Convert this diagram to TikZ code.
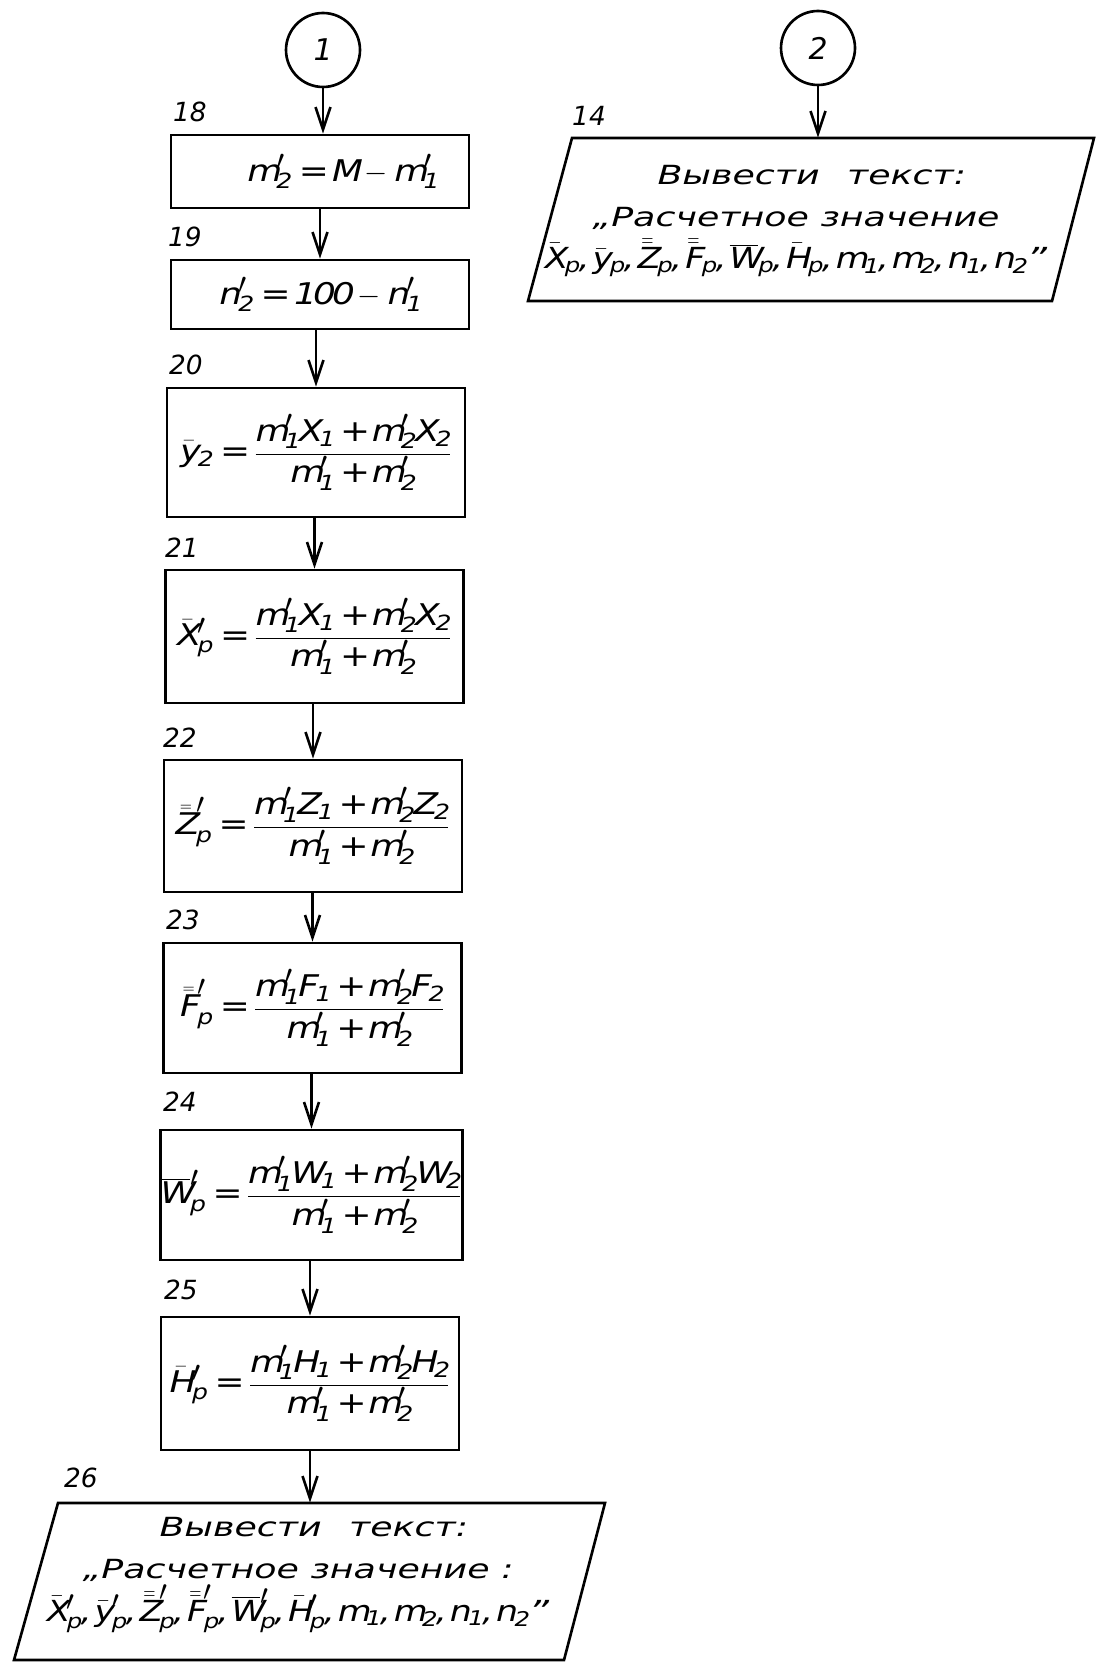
\documentclass[tikz,border=0pt]{standalone}
\usepackage{fix-cm}
\usepackage{graphicx}
\usepackage{fontspec}
\setmainfont{DejaVu Sans}
\newfontfamily\txtf{DejaVu Sans}[FakeStretch=1.38]
\newfontfamily\mathtxt{DejaVu Sans}[NFSSFamily=dvsm,FakeStretch=1.2]
\DeclareSymbolFont{letters}{TU}{dvsm}{m}{it}
\DeclareSymbolFont{cmlegacy}{OT1}{cmr}{m}{n}
\DeclareMathAccent{\bar}{\mathalpha}{cmlegacy}{"16}
\usetikzlibrary{arrows.meta}
\newcommand\fmath{\fontsize{17}{20}\selectfont}
\newcommand\ftext{\txtf\itshape\fontsize{15}{24}\selectfont}
\newcommand\flab{\itshape\fontsize{15}{18}\selectfont}
\newcommand\lineMath{\fontsize{16.5}{24}\selectfont}
\let\oldprime\prime
\renewcommand\prime{\mbox{\scalebox{1.4}{$\scriptstyle\oldprime$}}}
\begin{document}
\mathcode`\0="0130 \mathcode`\1="0131 \mathcode`\2="0132 \mathcode`\3="0133
\mathcode`\4="0134 \mathcode`\5="0135 \mathcode`\6="0136 \mathcode`\7="0137
\mathcode`\8="0138 \mathcode`\9="0139
\mathcode`\,="612C
\mathcode`\+="212B
\mathcode`\=="313D
\begin{tikzpicture}[x=0.02cm,y=-0.02cm,
  lw/.style={line width=1.5pt},
  box/.style={draw, lw, minimum width=5.96cm, inner sep=0pt, font=\fmath},
  conn/.style={circle, draw, lw, minimum size=1.48cm, inner sep=0pt, font=\fontsize{17}{20}\selectfont\itshape},
  lbl/.style={inner sep=0pt, font=\flab},
  arr/.style={lw, -{Straight Barb[length=4.5mm,width=3mm]}},
  ptext/.style={inner sep=0pt, align=center, font=\ftext}]
\useasboundingbox (0,0) rectangle (1097,1665);

% connectors circles
\node[conn] (c1) at (323,50) {1};
\node[conn] (c2) at (818,48) {2};

% block 14 (output)
\node[inner sep=0pt, minimum width=10.44cm, minimum height=3.26cm] (b14) at (811,219.5) {};
\draw[lw, line join=miter] (572,138) -- (1094,138) -- (1052,301) -- (528,301) -- cycle;
\node[ptext] (t14) at (796,221) {\hspace*{1.2em}Вывести\hspace{0.6em} текст:\\„Расчетное значение\\
{\lineMath$\bar{X}_p, \bar{y}_p, \bar{\bar{Z}}_p, \bar{\bar{F}}_p, \overline{W}_p, \bar{H}_p, m_1, m_2, n_1, n_2$”}};
\node[lbl] (l14) at (589,116) {14};
\draw[arr] (c2.south) -- (c2.south |- b14.north);

% main column
\node[box, minimum height=1.46cm] (b18) at (320,171.5) {\hspace*{0.9cm}$m'_2 = M - m'_1$};
\node[box, minimum height=1.38cm] (b19) at (320,294.5) {$n'_2 = 100 - n'_1$};
\node[box, minimum height=2.58cm] (b20) at (316,452.5) {$\bar{y}_2=\displaystyle\frac{m'_1X_1+m'_2X_2}{m'_1+m'_2}$};
\node[box, minimum height=2.66cm] (b21) at (314.5,636.5) {$\bar{X}'_p=\displaystyle\frac{m'_1X_1+m'_2X_2}{m'_1+m'_2}$};
\node[box, minimum height=2.64cm] (b22) at (313,826) {$\bar{\bar{Z}}'_p=\displaystyle\frac{m'_1Z_1+m'_2Z_2}{m'_1+m'_2}$};
\node[box, minimum height=2.60cm] (b23) at (312.5,1008) {$\bar{\bar{F}}'_p=\displaystyle\frac{m'_1F_1+m'_2F_2}{m'_1+m'_2}$};
\node[box, minimum height=2.60cm] (b24) at (311.5,1195) {$\overline{W}'_p=\displaystyle\frac{m'_1W_1+m'_2W_2}{m'_1+m'_2}$};
\node[box, minimum height=2.66cm] (b25) at (310,1383.5) {$\bar{H}'_p=\displaystyle\frac{m'_1H_1+m'_2H_2}{m'_1+m'_2}$};

% block 26 (output)
\node[inner sep=0pt, minimum width=10.94cm, minimum height=3.14cm] (b26) at (310,1581.5) {};
\draw[lw, line join=miter] (58,1503) -- (605,1503) -- (564,1660) -- (14,1660) -- cycle;
\node[ptext] (t26) at (298,1575) {\hspace*{1.2em}Вывести\hspace{0.6em} текст:\\„Расчетное значение :\\
{\lineMath$\bar{X}'_p, \bar{y}'_p, \bar{\bar{Z}}'_p, \bar{\bar{F}}'_p, \overline{W}'_p, \bar{H}'_p, m_1, m_2, n_1, n_2$”}};

% labels
\node[lbl] (l18) at (190,112) {18};
\node[lbl] (l19) at (185,237) {19};
\node[lbl] (l20) at (186,365) {20};
\node[lbl] (l21) at (182,548) {21};
\node[lbl] (l22) at (180,738) {22};
\node[lbl] (l23) at (183,920) {23};
\node[lbl] (l24) at (180,1102) {24};
\node[lbl] (l25) at (181,1290) {25};
\node[lbl] (l26) at (81,1478) {26};

% arrows
\draw[arr] (c1.south) -- (c1.south |- b18.north);
\draw[arr] (b19.north |- b18.south) -- (b19.north);
\draw[arr] (b20.north |- b19.south) -- (b20.north);
\draw[arr] (b21.north |- b20.south) -- (b21.north);
\draw[arr] (b22.north |- b21.south) -- (b22.north);
\draw[arr] (b23.north |- b22.south) -- (b23.north);
\draw[arr] (b24.north |- b23.south) -- (b24.north);
\draw[arr] (b25.north |- b24.south) -- (b25.north);
\draw[arr] (b25.south) -- (b25.south |- b26.north);
\end{tikzpicture}
\end{document}
